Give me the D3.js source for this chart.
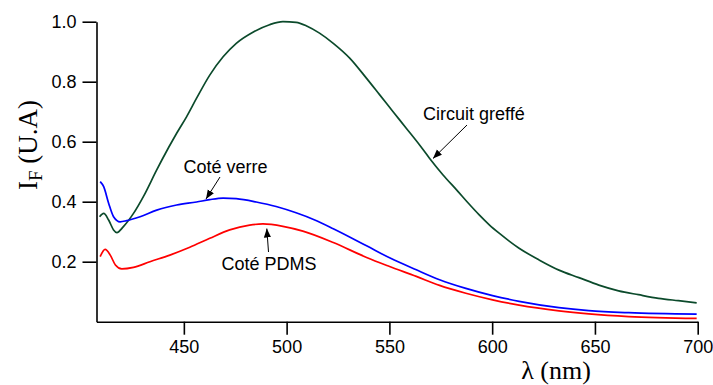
<!DOCTYPE html>
<html>
<head>
<meta charset="utf-8">
<script src="https://cdn.jsdelivr.net/npm/d3@7"></script>
<style>
  html, body { margin: 0; padding: 0; background: #fff; }
  svg { display: block; }
  .tick text { font-family: "Liberation Sans", Arial, sans-serif; font-size: 18px; fill: #000; }
</style>
</head>
<body>
<svg id="chart" width="713" height="385"></svg>
<script>
// ---- Data ----
const greenLambda = [409, 411, 413.4, 415.8, 417.4, 420.6, 425.5, 430.3, 436.8, 439.3, 446.5, 451.3, 456.2, 462.6, 469.1, 475.5, 483.6, 491.7, 498.2, 504.6, 510, 516, 522.7, 530.8, 538.9, 545.3, 551.8, 558.2, 564.7, 569.5, 576, 583, 588, 593.7, 598.6, 603.4, 613.1, 622.8, 632.5, 642.2, 651.9, 661.5, 671.2, 680.9, 690.6, 699.5];
const greenValues = [0.35, 0.361, 0.339, 0.306, 0.297, 0.317, 0.361, 0.417, 0.506, 0.539, 0.628, 0.683, 0.745, 0.822, 0.883, 0.928, 0.965, 0.99, 1.0, 0.998, 0.985, 0.962, 0.928, 0.878, 0.811, 0.756, 0.70, 0.645, 0.589, 0.545, 0.49, 0.437, 0.398, 0.356, 0.323, 0.295, 0.245, 0.206, 0.172, 0.147, 0.122, 0.103, 0.09, 0.078, 0.07, 0.063];

const blueLambda = [409.3, 411, 413.4, 415.8, 419, 422.2, 428.7, 436.8, 446.5, 456.2, 462.6, 469.1, 475.5, 485.2, 494.9, 504.6, 513.4, 522.7, 538.9, 550.1, 563.1, 574.4, 587.2, 600.2, 613.1, 632.5, 647, 666.4, 699.5];
const blueValues = [0.467, 0.45, 0.395, 0.35, 0.333, 0.337, 0.35, 0.372, 0.389, 0.399, 0.407, 0.412, 0.41, 0.399, 0.384, 0.363, 0.34, 0.31, 0.253, 0.213, 0.173, 0.14, 0.111, 0.087, 0.068, 0.047, 0.037, 0.03, 0.025];

const redLambda = [409.3, 411.7, 414.2, 416.7, 419.8, 425.5, 433.5, 443.2, 452.9, 462.6, 472.3, 482, 488.5, 498.2, 507.9, 522.7, 538.9, 550.1, 563.1, 574.4, 587.2, 600.2, 613.1, 632.5, 647, 666.4, 699.5];
const redValues = [0.217, 0.241, 0.222, 0.189, 0.176, 0.181, 0.2, 0.222, 0.248, 0.278, 0.306, 0.322, 0.326, 0.318, 0.302, 0.264, 0.214, 0.184, 0.151, 0.121, 0.095, 0.073, 0.055, 0.036, 0.026, 0.017, 0.011];

const xTicks = [450, 500, 550, 600, 650, 700];
const yTicks = [0.2, 0.4, 0.6, 0.8, 1.0];

const seriesNames = ["Circuit greffé", "Coté verre", "Coté PDMS"];
const seriesColors = ["#0b4a2b", "#0000ff", "#ff0000"];

// ---- Drawing ----
const svg = d3.select("#chart");
const x = d3.scaleLinear().domain([407.5, 700]).range([96.5, 697.7]);
const y = d3.scaleLinear().domain([0, 1.0]).range([321.7, 21.7]);

const xAxis = d3.axisBottom(x).tickValues(xTicks).tickFormat(d3.format("d")).tickSize(13).tickSizeOuter(0).tickPadding(6);
const yAxis = d3.axisLeft(y).tickValues(yTicks).tickFormat(d3.format(".1f")).tickSize(14).tickSizeOuter(0).tickPadding(6);

const gx = svg.append("g").attr("transform", `translate(0,${y(0)})`).call(xAxis);
const gy = svg.append("g").attr("transform", `translate(${x(407.5)},0)`).call(yAxis);
[gx, gy].forEach(g => {
  g.select(".domain").attr("stroke", "#000").attr("stroke-width", 1.6);
  g.selectAll(".tick line").attr("stroke", "#000").attr("stroke-width", 1.6);
});
gx.selectAll(".tick text").attr("dy", "0.71em");

const line = d3.line().x(d => x(d[0])).y(d => y(d[1])).curve(d3.curveMonotoneX);
const series = [
  d3.zip(greenLambda, greenValues),
  d3.zip(blueLambda, blueValues),
  d3.zip(redLambda, redValues)
];
series.forEach((s, i) => {
  svg.append("path").datum(s)
    .attr("fill", "none")
    .attr("stroke", seriesColors[i])
    .attr("stroke-width", 1.7)
    .attr("stroke-linejoin", "round")
    .attr("d", line);
});

// Axis titles
svg.append("text")
  .attr("x", 556).attr("y", 379)
  .attr("text-anchor", "middle")
  .style("font-family", "'Liberation Serif', 'Times New Roman', serif")
  .style("font-size", "26px")
  .text("λ (nm)");

const yt = svg.append("text")
  .attr("transform", "translate(37,145) rotate(-90)")
  .attr("text-anchor", "middle")
  .style("font-family", "'Liberation Serif', 'Times New Roman', serif")
  .style("font-size", "27px");
yt.append("tspan").text("I");
yt.append("tspan").attr("dy", 5).style("font-size", "19px").text("F");
yt.append("tspan").attr("dy", -5).text(" (U.A)");

// Annotations
svg.append("defs").append("marker")
  .attr("id", "arrow").attr("viewBox", "0 0 10 10")
  .attr("refX", 10).attr("refY", 5)
  .attr("markerWidth", 9).attr("markerHeight", 9)
  .attr("markerUnits", "userSpaceOnUse")
  .attr("orient", "auto")
  .append("path").attr("d", "M0,1 L10,5 L0,9 Z").attr("fill", "#000");

const annotations = [
  { text: seriesNames[0], tx: 423, ty: 120, from: [467, 125], to: [433, 158.5] },
  { text: seriesNames[1], tx: 183.5, ty: 173, from: [220, 177], to: [206, 199] },
  { text: seriesNames[2], tx: 221.5, ty: 270, from: [268.5, 252], to: [266.8, 228.5] }
];
annotations.forEach(a => {
  svg.append("text")
    .attr("x", a.tx).attr("y", a.ty)
    .style("font-family", "'Liberation Sans', Arial, sans-serif")
    .style("font-size", "18px")
    .text(a.text);
  svg.append("line")
    .attr("x1", a.from[0]).attr("y1", a.from[1])
    .attr("x2", a.to[0]).attr("y2", a.to[1])
    .attr("stroke", "#000").attr("stroke-width", 1)
    .attr("marker-end", "url(#arrow)");
});
</script>
</body>
</html>
